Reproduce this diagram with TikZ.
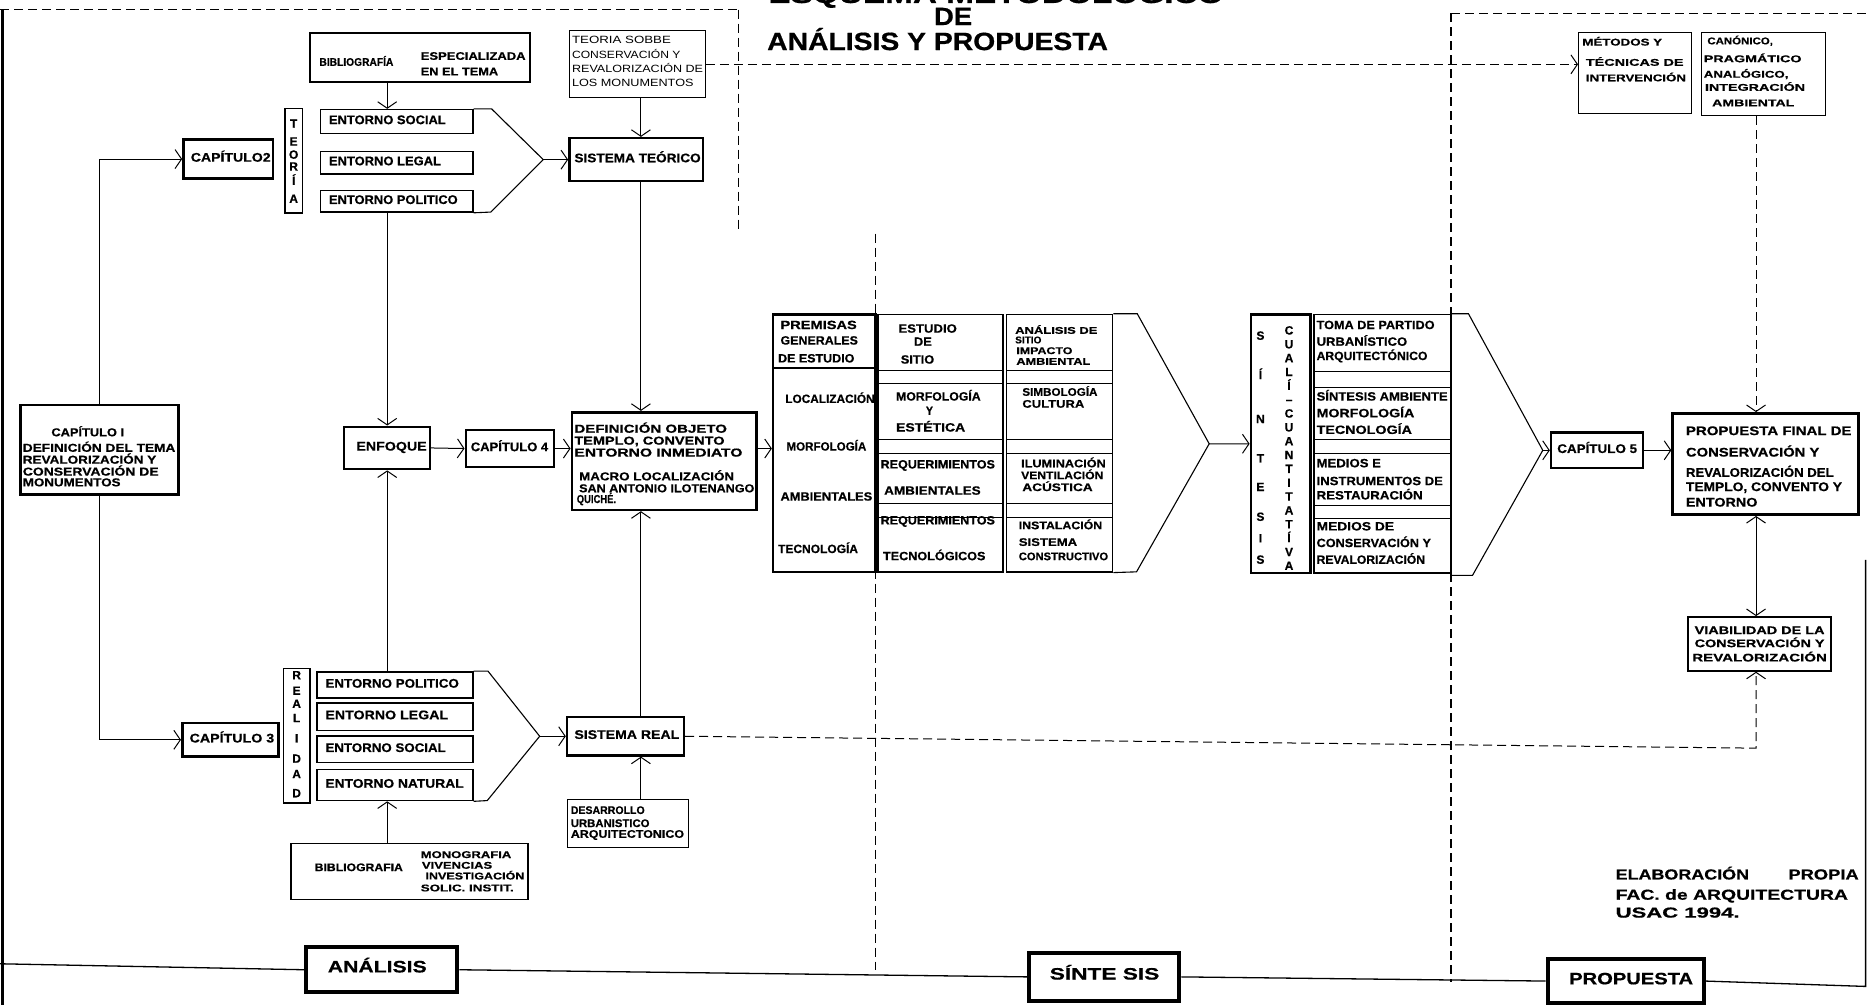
\documentclass[tikz,border=0pt]{standalone}
\usepackage{graphicx}
\usepackage{fontspec}
\setmainfont{Liberation Sans}[BoldFeatures={FakeBold=0.6}]
\usetikzlibrary{arrows.meta,fit,calc}
\newdimen\unitw \unitw=1.1913pt
\newcounter{tnum}
\newcommand\txl[5][]{\stepcounter{tnum}\edef\mytname{tx\arabic{tnum}}\node[tx,anchor=mid west,#1] (\mytname) at (#2,#3) {\resizebox{#4\unitw}{\height}{#5}};}
\newcommand\txc[5][]{\stepcounter{tnum}\edef\mytname{tx\arabic{tnum}}\node[tx,anchor=mid,#1] (\mytname) at (#2,#3) {\resizebox{#4\unitw}{\height}{#5}};}
\newcommand\ltr[4][]{\stepcounter{tnum}\edef\mytname{tx\arabic{tnum}}\node[tx,lt,anchor=mid,#1] (\mytname) at (#2,#3) {#4};}
\newcommand\bx[6]{\node[box,line width=#6,fit={(#2,#3)(#4,#5)}] (#1) {};}
\begin{document}
\begin{tikzpicture}[x=1.1913pt,y=-1.1913pt,
  box/.style={draw,inner sep=0pt},
  tx/.style={inner sep=0pt,font=\bfseries\fontsize{12.5}{13}\selectfont},
  sm/.style={font=\bfseries\fontsize{11}{11}\selectfont},
  smr/.style={font=\fontsize{10.5}{11}\selectfont},
  md/.style={font=\bfseries\fontsize{12}{12}\selectfont},
  cn/.style={font=\bfseries\fontsize{11.5}{12}\selectfont},
  vl/.style={font=\bfseries\fontsize{9.8}{10}\selectfont},
  lt/.style={font=\bfseries\fontsize{12}{12}\selectfont},
  big/.style={font=\bfseries\fontsize{25}{25}\selectfont},
  bot/.style={font=\bfseries\fontsize{16.5}{17}\selectfont},
  elab/.style={font=\bfseries\fontsize{14.5}{15}\selectfont},
  ln/.style={line width=0.9pt},
  fun/.style={line width=1.1pt},
  ar/.style={line width=1pt,-{Straight Barb[length=6.5pt,width=19pt]}},
  arb/.style={line width=1pt,{Straight Barb[length=6.5pt,width=19pt]}-{Straight Barb[length=6.5pt,width=19pt]}},
  dsh/.style={line width=1.2pt,dash pattern=on 9pt off 5pt},
]
\useasboundingbox (0,0) rectangle (1568,844);
\begin{scope}
\clip (0,0) rectangle (1568,844);
% ---------- title ----------
\txc[big,anchor=base]{836}{2.5}{382}{ESQUEMA METODOLÓGICO}
\txc[big,anchor=base]{800}{21}{32}{DE}
\txc[big,anchor=base]{787}{42}{286}{ANÁLISIS Y PROPUESTA}
% ---------- frame ----------
\draw[line width=3pt] (2,8) -- (2,844);
\draw[dsh] (0,8) -- (620,8);
\draw[dsh] (620,8) -- (620,194);
\draw[dsh] (1218,11) -- (1568,11);
\draw[dsh] (1218,11) -- (1218,824);
\draw[dsh] (735,196) -- (735,814);
% ---------- boxes ----------
\bx{anal}{257}{795}{384}{833}{4pt}
\bx{sint}{864}{800}{990}{840}{4pt}
\bx{prop}{1299}{805}{1430}{842}{4pt}
\bx{bib1}{260}{28}{445}{69}{1.8pt}
\bx{teo}{478}{26}{592}{82}{1pt}
\bx{cap2}{154}{117}{229}{150}{2.6pt}
\bx{teoria}{239}{91}{254}{179}{1.6pt}
\bx{esoc}{269}{92}{397}{112}{1.5pt}
\bx{eleg}{269}{127}{397}{146}{1.5pt}
\bx{epol}{269}{160}{397}{178}{1.5pt}
\bx{sisteo}{478}{116}{590}{152}{2.6pt}
\bx{cap1}{17}{340}{150}{415}{2.6pt}
\bx{enf}{289}{358}{361}{394}{2pt}
\bx{cap4}{391}{361}{465}{392}{2.6pt}
\bx{defn}{480}{346}{635}{428}{2.6pt}
\bx{cap3}{153}{607}{234}{635}{2.6pt}
\bx{real}{238}{561}{260}{674}{1.6pt}
\bx{epold}{266}{564}{397}{586}{1.5pt}
\bx{elegd}{266}{590}{397}{613}{1.5pt}
\bx{esocd}{266}{618}{397}{640}{1.5pt}
\bx{enatd}{266}{646}{397}{672}{1.5pt}
\bx{sisreal}{476}{602}{574}{634}{2.6pt}
\bx{desa}{476}{671}{578}{711}{1pt}
\bx{bibd}{244}{708}{443}{755}{1.8pt}
\bx{prem}{649}{264}{735}{480}{2.6pt}
\bx{coltwo}{737}{264}{842}{480}{1.5pt}
\bx{colthree}{845}{264}{934}{480}{1.5pt}
\bx{sin}{1050}{264}{1100}{481}{2.6pt}
\bx{colfour}{1103}{264}{1218}{481}{1.5pt}
\bx{cap5}{1302}{363}{1379}{393}{2.6pt}
\bx{pf}{1404}{347}{1560}{432}{2.6pt}
\bx{via}{1417}{518}{1537}{563}{2pt}
\bx{met}{1325}{27}{1420}{95}{1pt}
\bx{can}{1428}{27}{1532}{97}{1pt}
% inner rules
\draw[line width=1.5pt] (649,309) -- (735,309);
\foreach \yy in {311,322,369,381,423,434}{\draw[ln] (737,\yy) -- (842,\yy); \draw[ln] (845,\yy) -- (934,\yy);}
\foreach \yy in {312,325,369,381,424,435}{\draw[ln] (1103,\yy) -- (1218,\yy);}
% ---------- bottom line ----------
\draw[line width=1.3pt] (0,809) -- (anal.west);
\draw[line width=1.3pt] (anal.east) -- (sint.west);
\draw[line width=1.3pt] (sint.east) -- (prop.west);
\coordinate (brc) at (1566,828);
\draw[line width=1.3pt] (prop.east) -- (brc) -- (1566,470);
% ---------- texts ----------
\txl[bot]{275}{814}{83}{ANÁLISIS}
\txl[bot]{881}{820}{92}{SÍNTE SIS}
\txl[bot]{1317}{824}{104}{PROPUESTA}
\txl[sm]{268}{53}{62}{BIBLIOGRAFÍA}
\txl[sm]{353}{48}{88}{ESPECIALIZADA}
\txl[sm]{353}{61}{65}{EN EL TEMA}
\txl[smr]{480}{34}{83}{TEORIA SOBBE}
\txl[smr]{480}{47}{91}{CONSERVACIÓN Y}
\txl[smr]{480}{59}{110}{REVALORIZACIÓN DE}
\txl[smr]{480}{70}{102}{LOS MONUMENTOS}
\txl{160}{133.5}{67}{CAPÍTULO2}
\foreach \l/\yy in {T/105,E/120,O/131,R/141,Í/153,A/168}{\ltr{246.5}{\yy}{\l}}
\txl{276}{102}{98}{ENTORNO SOCIAL}
\txl{276}{136.5}{94}{ENTORNO LEGAL}
\txl{276}{169}{108}{ENTORNO POLITICO}
\txl{482}{134}{106}{SISTEMA TEÓRICO}
\txl[cn]{43}{364}{61}{CAPÍTULO I}
\txl[cn]{19}{377}{128}{DEFINICIÓN DEL TEMA}
\txl[cn]{19}{387}{112}{REVALORIZACIÓN Y}
\txl[cn]{19}{397}{114}{CONSERVACIÓN DE}
\txl[cn]{19}{406}{82}{MONUMENTOS}
\txl{299}{376}{59}{ENFOQUE}
\txl{395}{376.5}{65}{CAPÍTULO 4}
\txl[cn]{482}{361}{128}{DEFINICIÓN OBJETO}
\txl[cn]{482}{371}{126}{TEMPLO, CONVENTO}
\txl[cn]{482}{381}{141}{ENTORNO INMEDIATO}
\txl[cn]{486}{401}{130}{MACRO LOCALIZACIÓN}
\txl[cn]{486}{411}{147}{SAN ANTONIO ILOTENANGO}
\txl[cn]{484}{420}{33}{QUICHÉ.}
% premisas
\txl[md]{655}{274}{64}{PREMISAS}
\txl[md]{655}{287}{65}{GENERALES}
\txl[md]{653}{302}{64}{DE ESTUDIO}
\txl[md]{659}{336}{75}{LOCALIZACIÓN}
\txl[md]{660}{376}{67}{MORFOLOGÍA}
\txl[md]{655}{418}{77}{AMBIENTALES}
\txl[md]{653}{462}{67}{TECNOLOGÍA}
% column two
\txl[md]{754}{277}{49}{ESTUDIO}
\txl[md]{767}{288}{15}{DE}
\txl[md]{756}{303}{28}{SITIO}
\txl[md]{752}{334}{71}{MORFOLOGÍA}
\txl[md]{777}{346}{6}{Y}
\txl[md]{752}{360}{58}{ESTÉTICA}
\txl[md]{739}{391}{96}{REQUERIMIENTOS}
\txl[md]{742}{413}{81}{AMBIENTALES}
\txl[md]{739}{438}{96}{REQUERIMIENTOS}
\txl[md]{741}{468}{86}{TECNOLÓGICOS}
% column three
\txl[vl]{852}{278}{69}{ANÁLISIS DE}
\txl[vl]{852}{286}{22}{SITIO}
\txl[vl]{853}{295}{47}{IMPACTO}
\txl[vl]{853}{304}{62}{AMBIENTAL}
\txl[sm]{858}{330}{63}{SIMBOLOGÍA}
\txl[sm]{858}{340}{52}{CULTURA}
\txl[sm]{857}{390}{71}{ILUMINACIÓN}
\txl[sm]{857}{400}{69}{VENTILACIÓN}
\txl[sm]{858}{410}{59}{ACÚSTICA}
\txl[sm]{855}{442}{70}{INSTALACIÓN}
\txl[sm]{855}{456}{49}{SISTEMA}
\txl[sm]{855}{468}{75}{CONSTRUCTIVO}
% sintesis column letters
\foreach \l/\yy in {S/283,Í/316,N/353,T/386,E/410,S/435,I/453,S/471}{\ltr{1058}{\yy}{\l}}
\foreach \l [count=\i from 0] in {C,U,A,L,Í,–,C,U,A,N,T,I,T,A,T,Í,V,A}{\ltr{1082}{278.6+11.62*\i}{\l}}
% column four
\txl[md]{1105}{274}{99}{TOMA DE PARTIDO}
\txl[md]{1105}{288}{76}{URBANÍSTICO}
\txl[md]{1105}{300}{93}{ARQUITECTÓNICO}
\txl[md]{1105}{334}{110}{SÍNTESIS AMBIENTE}
\txl[md]{1105}{348}{82}{MORFOLOGÍA}
\txl[md]{1105}{362}{80}{TECNOLOGÍA}
\txl[md]{1105}{390}{54}{MEDIOS E}
\txl[md]{1105}{405}{106}{INSTRUMENTOS DE}
\txl[md]{1105}{417}{89}{RESTAURACIÓN}
\txl[md]{1105}{443}{65}{MEDIOS DE}
\txl[md]{1105}{457}{96}{CONSERVACIÓN Y}
\txl[md]{1105}{471}{91}{REVALORIZACIÓN}
% right part
\txl{1307}{378}{67}{CAPÍTULO 5}
\txl{1415}{363}{139}{PROPUESTA FINAL DE}
\txl{1415}{381}{112}{CONSERVACIÓN Y}
\txl{1415}{398}{124}{REVALORIZACIÓN DEL}
\txl{1415}{410}{131}{TEMPLO, CONVENTO Y}
\txl{1415}{423}{60}{ENTORNO}
\txc[sm]{1477}{530}{109}{VIABILIDAD DE LA}
\txc[sm]{1477}{541}{109}{CONSERVACIÓN Y}
\txc[sm]{1477}{553}{113}{REVALORIZACIÓN}
\txl[vl]{1328}{36}{67}{MÉTODOS Y}
\txl[vl]{1331}{53}{82}{TÉCNICAS DE}
\txl[vl]{1331}{66}{84}{INTERVENCIÓN}
\txl[vl]{1433}{35}{55}{CANÓNICO,}
\txl[vl]{1430}{50}{82}{PRAGMÁTICO}
\txl[vl]{1430}{63}{71}{ANALÓGICO,}
\txl[vl]{1431}{74}{84}{INTEGRACIÓN}
\txl[vl]{1437}{87}{69}{AMBIENTAL}
% lower left
\txl{159}{621}{71}{CAPÍTULO 3}
\foreach \l/\yy in {R/568,E/581,A/592,L/604,I/621,D/638,A/651,D/667}{\ltr{249}{\yy}{\l}}
\txl{273}{575}{112}{ENTORNO POLITICO}
\txl{273}{601.5}{103}{ENTORNO LEGAL}
\txl{273}{629}{101}{ENTORNO SOCIAL}
\txl{273}{659}{116}{ENTORNO NATURAL}
\txl{482}{618}{88}{SISTEMA REAL}
\txl[sm]{479}{681}{62}{DESARROLLO}
\txl[sm]{479}{692}{66}{URBANISTICO}
\txl[sm]{479}{701}{95}{ARQUITECTONICO}
\txl[sm]{264}{729}{74}{BIBLIOGRAFIA}
\txl[vl]{353}{718}{76}{MONOGRAFIA}
\txl[vl]{354}{727}{59}{VIVENCIAS}
\txl[vl]{357}{736}{83}{INVESTIGACIÓN}
\txl[vl]{353}{746}{78}{SOLIC. INSTIT.}
% credits
\txl[elab]{1356}{736}{112}{ELABORACIÓN}
\txl[elab]{1501}{736}{59}{PROPIA}
\txl[elab]{1356}{753}{195}{FAC. de ARQUITECTURA}
\txl[elab]{1356}{768}{104}{USAC 1994.}
% ---------- funnels ----------
\coordinate (ap1) at (456,134);
\coordinate (ap2) at (453,618);
\coordinate (ap3) at (1015,372.5);
\coordinate (ap4) at (1295,378);
\draw[fun] (esoc.north east) -- ++(15,0) -- (ap1) -- (412,178) -- (epol.south east);
\draw[fun] (epold.north east) -- ++(12,0) -- (ap2) -- (409,672) -- (enatd.south east);
\draw[fun] (colthree.north east) -- ++(20,0) -- (ap3) -- (954,480) -- (colthree.south east);
\draw[fun] (colfour.north east) -- ++(14,0) -- (ap4) -- (1236,483) -- (1218,483);
% ---------- connectors ----------
\coordinate (xm) at (538,0);
\coordinate (xr) at (1474,0);
\coordinate (cr) at (1474,628);
\draw[ar] (ap1) -- (sisteo.west);
\draw[ar] (ap2) -- (sisreal.west);
\draw[ar] (ap3) -- (sin.west);
\draw[ar] (ap4) -- (cap5.west);
\draw[ar] (cap1.north) |- (cap2.west);
\draw[ar] (cap1.south) |- (cap3.west);
\draw[ar] (bib1.south -| enf.north) -- (esoc.north -| enf.north);
\draw[ar] (epol.south -| enf.north) -- (enf.north);
\draw[ar] (epold.north -| enf.south) -- (enf.south);
\draw[ar] (bibd.north -| enf.south) -- (enatd.south -| enf.south);
\draw[ar] (enf.east) -- (cap4.west);
\draw[ar] (cap4.east) -- (cap4.east -| defn.west);
\draw[ar] (cap4.east -| defn.east) -- (cap4.east -| prem.west);
\draw[ar] (teo.south -| xm) -- (sisteo.north -| xm);
\draw[ar] (sisteo.south -| xm) -- (defn.north -| xm);
\draw[ar] (sisreal.north -| xm) -- (defn.south -| xm);
\draw[ar] (desa.north -| xm) -- (sisreal.south -| xm);
\draw[ar] (cap5.east) -- (cap5.east -| pf.west);
\draw[dsh,ar] (teo.east) -- (teo.east -| met.west);
\draw[dsh,ar] (can.south -| xr) -- (pf.north -| xr);
\draw[arb] (pf.south -| xr) -- (via.north -| xr);
\draw[dsh,ar] (sisreal.east) -- (cr) -- (via.south -| cr);
\end{scope}
\end{tikzpicture}
\end{document}
